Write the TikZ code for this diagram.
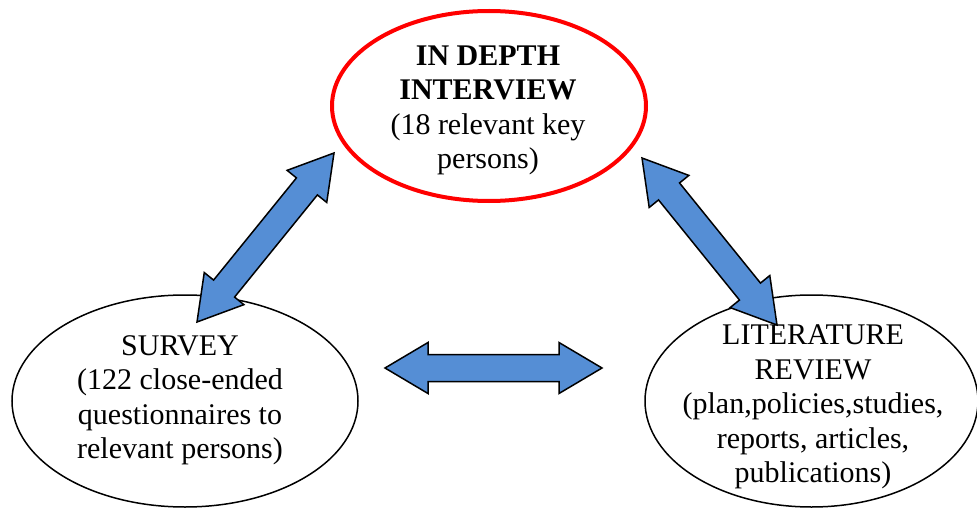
\documentclass[tikz,border=0pt]{standalone}
\usepackage{fontspec}
\setmainfont{Liberation Serif}
\usetikzlibrary{positioning,calc,shapes.geometric}

\definecolor{arrowblue}{RGB}{85,142,213}

\newcommand{\headlen}{43pt}
\newcommand{\headhalf}{25.5pt}
\newcommand{\shafthalf}{13.5pt}
\newcommand{\blockarrow}[2]{%
  \filldraw[bigarrow] (#1)
    -- ($(#1)!\headlen!(#2)!\headhalf!90:(#2)$)
    -- ($(#1)!\headlen!(#2)!\shafthalf!90:(#2)$)
    -- ($(#2)!\headlen!(#1)!\shafthalf!-90:(#1)$)
    -- ($(#2)!\headlen!(#1)!\headhalf!-90:(#1)$)
    -- (#2)
    -- ($(#2)!\headlen!(#1)!\headhalf!90:(#1)$)
    -- ($(#2)!\headlen!(#1)!\shafthalf!90:(#1)$)
    -- ($(#1)!\headlen!(#2)!\shafthalf!-90:(#2)$)
    -- ($(#1)!\headlen!(#2)!\headhalf!-90:(#2)$)
    -- cycle;}

\begin{document}
\begin{tikzpicture}[x=1pt,y=-1pt]
    \tikzstyle{oval}=[ellipse,draw=black,line width=1.5,inner sep=0]
    \tikzstyle{keyoval}=[oval,draw=red,line width=4]
    \tikzstyle{txt}=[align=center,inner sep=0,font=\fontsize{30}{34.5}\selectfont]
    \tikzstyle{bigarrow}=[fill=arrowblue,draw=black,line width=1.5,line join=miter]

    \useasboundingbox (0,0) rectangle (977,508);

    \node[keyoval,minimum width=314,minimum height=190] (interview) at (489,106) {};
    \node[oval,minimum width=346,minimum height=212] (survey) at (185,401) {};
    \node[oval,minimum width=333,minimum height=212] (review) at (811.5,401) {};

    \node[txt] (interview-txt) at (488,110.5) {\textbf{IN DEPTH}\\\textbf{INTERVIEW}\\(18 relevant key\\persons)};
    \node[txt] (survey-txt) at (180,400.5) {SURVEY\\(122 close-ended\\questionnaires to\\relevant persons)};
    \node[txt] (review-txt) at (813,407) {LITERATURE\\REVIEW\\(plan,policies,studies,\\reports, articles,\\publications)};

    \coordinate (survey-n) at (197,322);
    \coordinate (interview-sw) at (334,153);
    \coordinate (interview-se) at (642,158);
    \coordinate (review-n) at (777,325);
    \coordinate (survey-e) at (385,368);
    \coordinate (review-w) at (602,368);

    \blockarrow{survey-n}{interview-sw}
    \blockarrow{interview-se}{review-n}
    \blockarrow{survey-e}{review-w}
\end{tikzpicture}
\end{document}
